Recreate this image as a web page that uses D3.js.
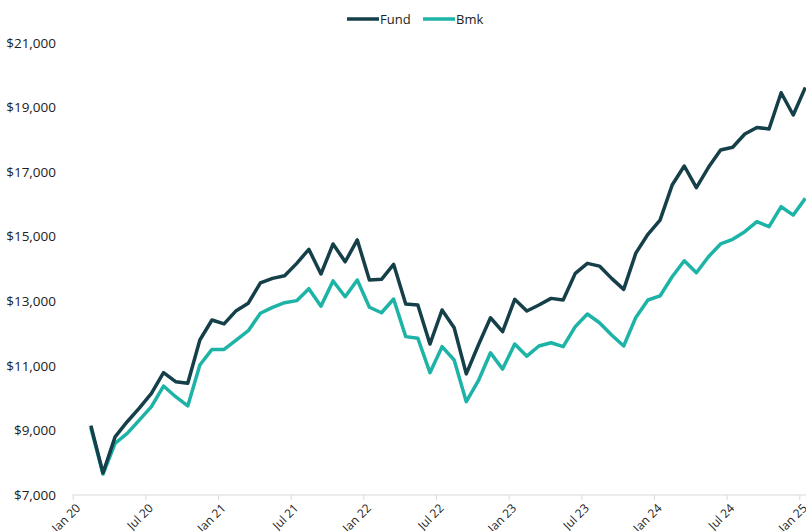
<!DOCTYPE html>
<html>
<head>
<meta charset="utf-8">
<script src="https://cdn.jsdelivr.net/npm/d3@7"></script>
<style>
  body { margin: 0; background: #fff; }
  text { font-family: "Open Sans", sans-serif; }
</style>
</head>
<body>
<svg id="chart" width="806" height="531"></svg>
<script>
// months counted from Jan 20 (index 0); data runs Feb 20 .. Jan 25
var tickLabels = ["Jan 20","Jul 20","Jan 21","Jul 21","Jan 22","Jul 22","Jan 23","Jul 23","Jan 24","Jul 24","Jan 25"];

var fund = [9150,7680,8800,9270,9690,10150,10790,10510,10460,11800,
  12420,12300,12710,12940,13570,13710,13790,14175,14610,13845,
  14775,14225,14900,13660,13680,14145,12915,12885,11675,12730,
  12180,10750,11645,12490,12060,13060,12700,12885,13090,13040,
  13865,14175,14090,13710,13370,14490,15075,15515,16600,17190,
  16520,17150,17685,17770,18180,18385,18335,19460,18770,19625];

var bmk = [9080,7650,8600,8910,9320,9735,10375,10045,9760,11025,
  11510,11510,11800,12090,12630,12810,12955,13020,13390,12850,
  13630,13140,13660,12815,12645,13070,11905,11855,10790,11595,
  11180,9890,10540,11405,10900,11675,11300,11615,11715,11595,
  12215,12605,12335,11955,11615,12500,13040,13165,13760,14255,
  13885,14380,14775,14920,15155,15465,15310,15930,15670,16190];

var yTicks = [7000,9000,11000,13000,15000,17000,19000,21000];

var colFund = "#153f49";
var colBmk = "#1db3a6";

var svg = d3.select("#chart");

var x = d3.scaleLinear().domain([0, 60]).range([72.7, 799.3]);
var y = d3.scaleLinear().domain([7000, 21000]).range([495, 43]);

// y labels (no axis line)
var fmt = d3.format("$,");
svg.append("g").selectAll("text")
  .data(yTicks)
  .enter().append("text")
  .attr("x", 56)
  .attr("y", d => y(d))
  .attr("dy", "0.35em")
  .attr("text-anchor", "end")
  .attr("font-size", 13.5)
  .attr("fill", "#222")
  .text(d => fmt(d));

// x axis
var xAxis = d3.axisBottom(x)
  .tickValues(d3.range(0, 61, 6))
  .tickFormat((d, i) => tickLabels[i])
  .tickSize(5)
  .tickSizeOuter(0);

var gx = svg.append("g")
  .attr("transform", "translate(0,495)")
  .call(xAxis);
gx.select(".domain").attr("stroke", "#d9d9d9").attr("d", "M72.7,0H806");
gx.selectAll(".tick line").attr("stroke", "#d9d9d9");
gx.selectAll(".tick text")
  .attr("font-size", 12)
  .attr("font-family", "Open Sans, sans-serif")
  .attr("fill", "#222")
  .attr("text-anchor", "end")
  .attr("dy", null)
  .attr("y", 0)
  .attr("transform", "translate(8,14) rotate(-45)");

// lines
var line = d3.line()
  .x((d, i) => x(i + 1.5))
  .y(d => y(d));

svg.append("path")
  .datum(bmk)
  .attr("fill", "none")
  .attr("stroke", colBmk)
  .attr("stroke-width", 3.5)
  .attr("stroke-linejoin", "round")
  .attr("d", line);

svg.append("path")
  .datum(fund)
  .attr("fill", "none")
  .attr("stroke", colFund)
  .attr("stroke-width", 3.5)
  .attr("stroke-linejoin", "round")
  .attr("d", line);

// legend
var legend = [["Fund", colFund, 347], ["Bmk", colBmk, 423]];
var lg = svg.append("g").selectAll("g")
  .data(legend)
  .enter().append("g")
  .attr("transform", d => "translate(" + d[2] + ",19)");
lg.append("line")
  .attr("x1", 0).attr("x2", 32)
  .attr("stroke", d => d[1])
  .attr("stroke-width", 3.5);
lg.append("text")
  .attr("x", 33)
  .attr("dy", "0.35em")
  .attr("font-size", 13)
  .attr("fill", "#222")
  .text(d => d[0]);
</script>
</body>
</html>
